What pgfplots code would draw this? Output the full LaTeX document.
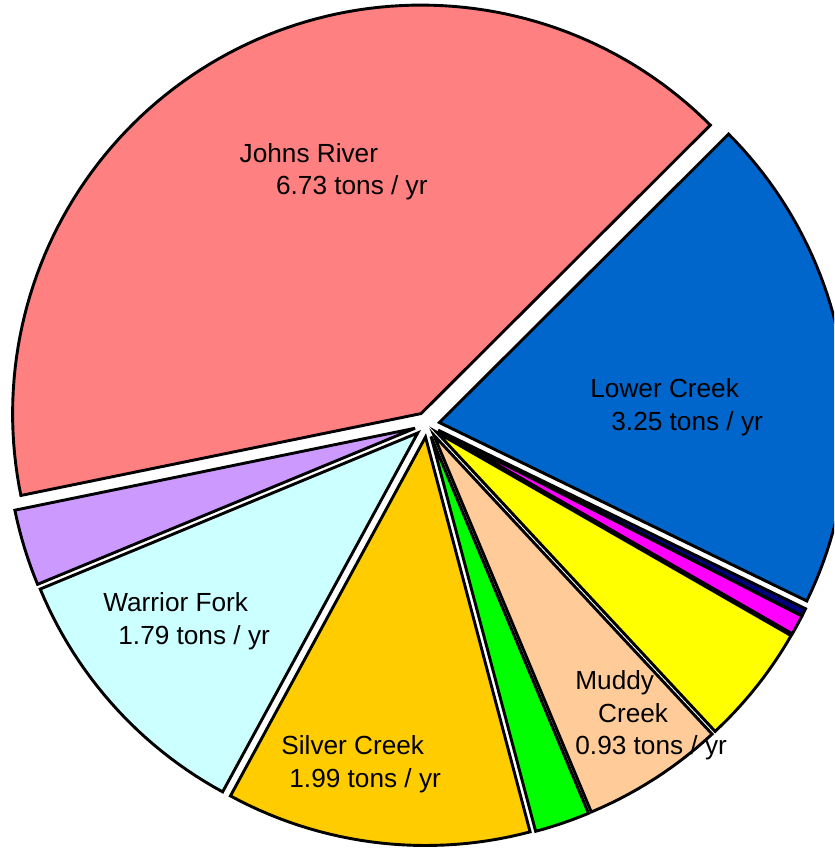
\documentclass[border=0pt]{standalone}
\usepackage{pgfplots}
\usepackage{pgfplotstable}
\pgfplotsset{compat=1.18}
\usepackage{fontspec}
\setmainfont{Liberation Sans}

\definecolor{cJohns}{HTML}{FF8080}
\definecolor{cLower}{HTML}{0066CC}
\definecolor{cNavy}{HTML}{000080}
\definecolor{cMagenta}{HTML}{FF00FF}
\definecolor{cYellow}{HTML}{FFFF00}
\definecolor{cMuddy}{HTML}{FFCC99}
\definecolor{cGreen}{HTML}{00FF00}
\definecolor{cSilver}{HTML}{FFCC00}
\definecolor{cWarrior}{HTML}{CCFFFF}
\definecolor{cPurple}{HTML}{CC99FF}

% slices, counter-clockwise starting at the lower edge of Lower Creek
\pgfplotstableread{
name    value color
Lower   3.25  cLower
Johns   6.73  cJohns
Purple  0.50  cPurple
Warrior 1.79  cWarrior
Silver  1.99  cSilver
Green   0.36  cGreen
Muddy   0.93  cMuddy
Yellow  0.79  cYellow
Magenta 0.13  cMagenta
Navy    0.05  cNavy
}\piedata

\def\cx{427}\def\cy{424.4}\def\R{408.5}\def\e{12.5}
\def\cum{-25.9}

\newcommand\slice[2]{%
  \pgfmathsetmacro\sa{\cum}%
  \pgfmathsetmacro\sb{\cum+#1/\total*360}%
  \pgfmathsetmacro\sm{(\sa+\sb)/2}%
  \pgfmathsetmacro\ox{\cx+\e*cos(\sm)}%
  \pgfmathsetmacro\oy{\cy+\e*sin(\sm)}%
  \pgfmathtruncatemacro\ns{max(4,(\sb-\sa)/1.5+2)}%
  \edef\doslice{\noexpand\addplot[draw=black,line width=1.45pt,fill=#2,domain=\sa:\sb,samples=\ns]
     ({\ox+\R*cos(x)},{\oy+\R*sin(x)}) -- (axis cs:\ox,\oy) -- cycle;}%
  \doslice
  \global\let\cum\sb
}

\begin{document}
\begin{tikzpicture}
\def\total{0}
\pgfplotsforeachungrouped \i in {0,...,9}{%
  \pgfplotstablegetelem{\i}{value}\of\piedata
  \pgfmathsetmacro\total{\total+\pgfplotsretval}}
\begin{axis}[
  scale only axis, width=417pt, height=424.5pt,
  xmin=0, xmax=834, ymin=0, ymax=849,
  hide axis, clip=true,
]
\pgfplotsforeachungrouped \i in {0,...,9}{%
  \pgfplotstablegetelem{\i}{value}\of\piedata \let\v\pgfplotsretval
  \pgfplotstablegetelem{\i}{color}\of\piedata \let\c\pgfplotsretval
  \slice{\v}{\c}%
}
\tikzset{lbl/.style={anchor=base west,inner sep=0pt,font=\fontsize{13.1}{15}\selectfont}}
\node[lbl] at (axis cs:239.3,686.7) {Johns River};
\node[lbl] at (axis cs:275.7,654) {6.73 tons / yr};
\node[lbl] at (axis cs:590,451) {Lower Creek};
\node[lbl] at (axis cs:611,418) {3.25 tons / yr};
\node[lbl] at (axis cs:103,237) {Warrior Fork};
\node[lbl] at (axis cs:118,204) {1.79 tons / yr};
\node[lbl] at (axis cs:281,94) {Silver Creek};
\node[lbl] at (axis cs:289,61) {1.99 tons / yr};
\node[lbl] at (axis cs:575,159) {Muddy};
\node[lbl] at (axis cs:597.7,126.3) {Creek};
\node[lbl] at (axis cs:575,94.7) {0.93 tons / yr};
\end{axis}
\pgfresetboundingbox
\path (current axis.south west) rectangle (current axis.north east);
\end{tikzpicture}
\end{document}
